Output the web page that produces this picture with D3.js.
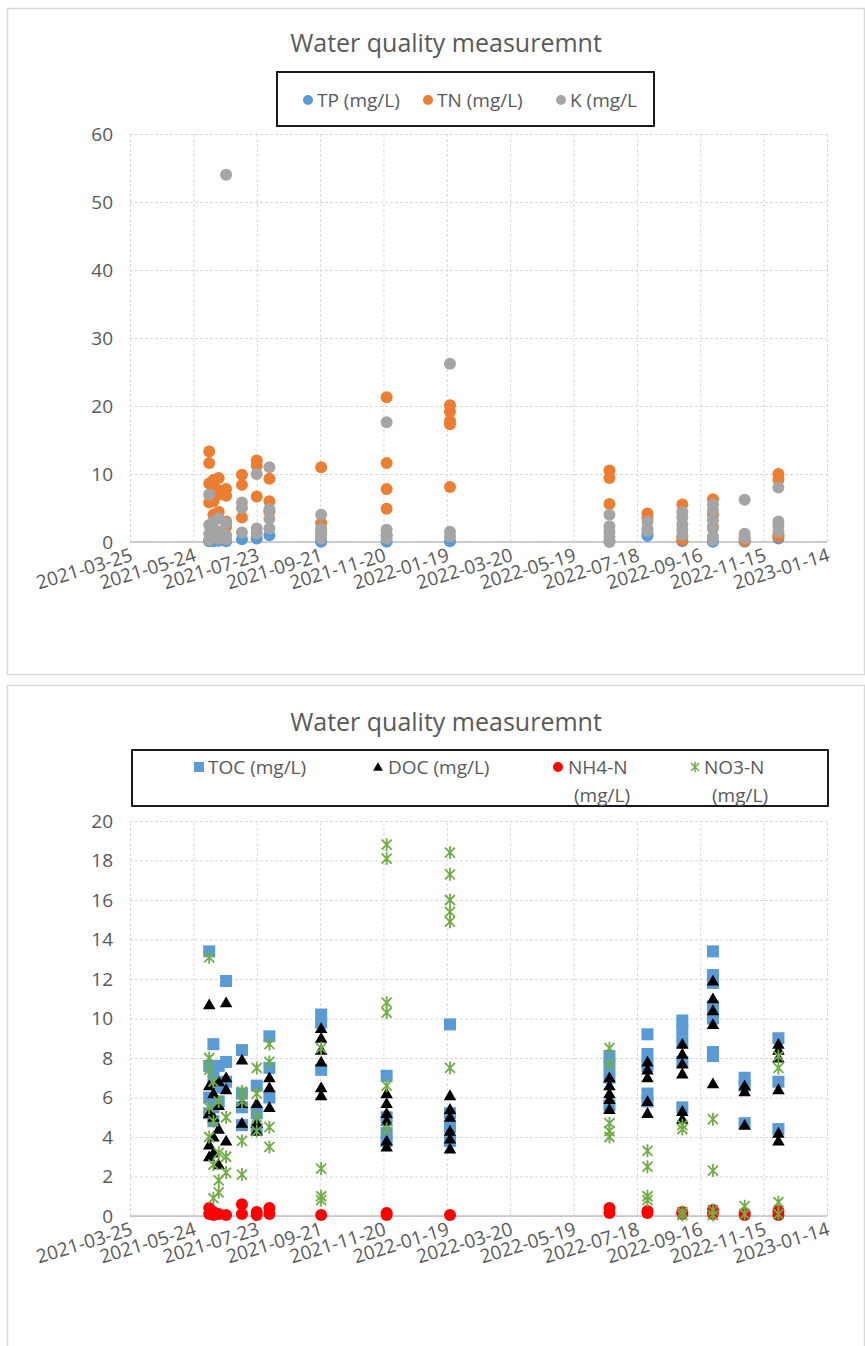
<!DOCTYPE html>
<html>
<head>
<meta charset="utf-8">
<script src="https://cdn.jsdelivr.net/npm/d3@7"></script>
<style>
body { margin: 0; background: #fff; }
text { font-family: "Open Sans", sans-serif; fill: #595959; }
</style>
</head>
<body>
<div id="container"></div>
<script>
// sampling dates shared by both charts
const sampleDates = ["2021-06-08", "2021-06-12", "2021-06-17", "2021-06-24", "2021-07-09", "2021-07-23", "2021-08-04",
  "2021-09-22", "2021-11-23", "2022-01-22", "2022-06-22", "2022-07-28", "2022-08-30", "2022-09-28", "2022-10-28", "2022-11-29"];

const xTickLabels = ["2021-03-25", "2021-05-24", "2021-07-23", "2021-09-21", "2021-11-20", "2022-01-19",
  "2022-03-20", "2022-05-19", "2022-07-18", "2022-09-16", "2022-11-15", "2023-01-14"];

const topTicks = [0, 10, 20, 30, 40, 50, 60];
const bottomTicks = [0, 2, 4, 6, 8, 10, 12, 14, 16, 18, 20];

// top chart, values per sampling date
const tp = [[0.1, 0.2], [0.1, 0.3], [0.2], [0.1, 0.2], [0.4], [0.5], [1.0], [0.05, 0.1], [0.05], [0.1],
  [0.2], [0.9, 1.2], [0.1], [0.05, 0.1], [0.05], [0.5]];
const tn = [[13.3, 11.6, 8.6, 5.8], [9.1, 8.2, 6.0, 4.0], [9.4, 7.6, 7.0, 4.4], [7.8, 6.8, 3.0, 2.2], [9.9, 8.4, 3.6],
  [12.0, 11.2, 6.7], [9.3, 6.0, 4.5], [11.0, 2.8, 1.5], [21.3, 11.6, 7.8, 4.9, 1.0], [20.1, 19.2, 17.8, 17.3, 8.1],
  [10.5, 9.4, 5.6], [4.2, 3.5], [5.5, 0.8, 0.3], [6.3, 4.0, 2.2], [0.5, 0.2], [10.0, 9.2, 1.0, 0.8]];
const kk = [[7.0, 2.5, 1.2, 0.3], [3.0, 2.0, 0.8], [3.5, 1.5, 0.5], [54.0, 2.8, 1.0, 0.4], [5.8, 5.0, 1.4],
  [10.0, 2.0, 1.3], [11.0, 4.8, 3.4, 2.0], [4.0, 2.0, 1.0, 0.5], [17.6, 1.8, 1.0, 0.5], [26.2, 1.5, 0.8],
  [4.0, 2.3, 1.5, 0.8, 0.0], [3.0, 2.0, 1.6], [4.4, 3.6, 2.6, 1.8, 1.0], [5.5, 4.6, 3.2, 2.0, 0.8, 0.3],
  [6.2, 1.2, 0.6], [8.0, 3.0, 2.4, 1.5]];

// bottom chart
const toc = [[13.4, 7.6, 6.0, 5.2], [8.7, 7.0, 5.5, 4.8], [7.6, 6.5, 5.8], [11.9, 7.8, 6.8], [8.4, 6.2, 5.5, 4.6],
  [6.6, 5.2, 4.4], [9.1, 7.5, 6.0], [10.2, 9.8, 7.4], [7.1, 5.0, 4.2, 3.8], [9.7, 5.2, 4.5, 3.8],
  [8.1, 7.6, 7.0, 5.6], [9.2, 8.2, 7.6, 6.2, 5.8], [9.9, 9.4, 8.8, 7.8, 5.5], [13.4, 12.2, 11.8, 10.6, 10.0, 8.3, 8.1],
  [7.0, 6.6, 4.7], [9.0, 6.8, 4.4]];
const doc = [[10.7, 6.6, 5.2, 3.6, 3.0], [6.2, 5.0, 4.0, 3.2], [6.8, 5.6, 4.4, 2.6], [10.8, 7.0, 6.4, 3.8],
  [7.9, 5.7, 4.7], [5.7, 4.7, 4.3], [7.0, 6.5, 5.5], [9.5, 9.0, 8.4, 7.8, 6.5, 6.1], [6.2, 5.7, 5.2, 4.8, 3.8, 3.5],
  [6.1, 5.4, 5.0, 4.3, 3.9, 3.4], [7.0, 6.6, 6.2, 5.9, 5.4], [7.8, 7.4, 7.0, 5.8, 5.2], [8.7, 8.2, 7.7, 7.2, 5.3, 4.9],
  [11.9, 11.0, 10.4, 9.7, 6.7], [6.6, 6.3, 4.6], [8.7, 8.4, 8.0, 6.4, 4.2, 3.8]];
const nh4 = [[0.4, 0.1], [0.2, 0.05], [0.1], [0.05], [0.6, 0.1], [0.2, 0.05], [0.4, 0.1], [0.05], [0.15, 0.05], [0.05],
  [0.4, 0.15], [0.25, 0.15], [0.2, 0.1], [0.3, 0.1], [0.15, 0.05], [0.25, 0.05]];
const no3 = [[13.1, 8.0, 7.4, 5.5, 4.0], [6.8, 4.8, 2.6, 0.9], [5.8, 3.2, 1.8, 1.2], [5.0, 3.0, 2.2], [6.3, 5.8, 3.8, 2.1],
  [7.5, 6.2, 5.0, 4.3], [8.7, 7.8, 4.5, 3.5], [8.5, 2.4, 1.0, 0.8], [18.8, 18.1, 10.8, 10.3, 6.6, 4.4],
  [18.4, 17.3, 16.0, 15.4, 14.9, 7.5], [8.5, 7.7, 4.7, 4.3, 4.0], [3.3, 2.5, 1.0, 0.8], [4.6, 4.4, 0.2, 0.05],
  [4.9, 2.3, 0.3, 0.05], [0.5, 0.1], [8.1, 7.5, 0.7, 0.1]];

const parse = d3.utcParse("%Y-%m-%d");
const W = 865, H = 1346;

const svg = d3.select("#container").append("svg")
  .attr("width", W).attr("height", H);

const x = d3.scaleUtc()
  .domain([parse(xTickLabels[0]), parse(xTickLabels[xTickLabels.length - 1])])
  .range([130, 827]);

function flatten(series) {
  const out = [];
  sampleDates.forEach((d, i) => series[i].forEach(v => out.push({ date: parse(d), value: v })));
  return out;
}

const starPath = "M-5,-5L5,5M-5,5L5,-5M0,-6.5L0,6.5";

function drawMarks(g, data, y, kind, color) {
  const sel = g.append("g").selectAll("path").data(flatten(data)).enter();
  if (kind == "circle") {
    sel.append("circle").attr("cx", d => x(d.date)).attr("cy", d => y(d.value)).attr("r", 6).attr("fill", color);
  } else if (kind == "square") {
    sel.append("rect").attr("x", d => x(d.date) - 6).attr("y", d => y(d.value) - 6)
      .attr("width", 12).attr("height", 12).attr("fill", color);
  } else if (kind == "triangle") {
    sel.append("path").attr("d", d3.symbol(d3.symbolTriangle, 68))
      .attr("transform", d => "translate(" + x(d.date) + "," + (y(d.value) + 1) + ")").attr("fill", color);
  } else if (kind == "dot") {
    sel.append("circle").attr("cx", d => x(d.date)).attr("cy", d => y(d.value)).attr("r", 6).attr("fill", color);
  } else {
    sel.append("path").attr("d", starPath)
      .attr("transform", d => "translate(" + x(d.date) + "," + y(d.value) + ")")
      .attr("stroke", color).attr("stroke-width", 1.8).attr("fill", "none");
  }
}

function legendMark(g, kind, cx, cy, color) {
  if (kind == "circle" || kind == "dot") g.append("circle").attr("cx", cx).attr("cy", cy).attr("r", 5).attr("fill", color);
  else if (kind == "square") g.append("rect").attr("x", cx - 5).attr("y", cy - 5).attr("width", 10).attr("height", 10).attr("fill", color);
  else if (kind == "triangle") g.append("path").attr("d", d3.symbol(d3.symbolTriangle, 42)).attr("transform", "translate(" + cx + "," + (cy + 1) + ")").attr("fill", color);
  else g.append("path").attr("d", "M-4,-4L4,4M-4,4L4,-4M0,-5L0,5").attr("transform", "translate(" + cx + "," + cy + ")").attr("stroke", color).attr("stroke-width", 1.5);
}

function drawChart(cfg) {
  const g = svg.append("g");
  g.append("rect").attr("x", 7.5).attr("y", cfg.frameTop + 0.5).attr("width", 857).attr("height", cfg.frameH)
    .attr("fill", "#fff").attr("stroke", "#d9d9d9").attr("stroke-width", 1.5);

  const y = d3.scaleLinear().domain([0, cfg.yMax]).range([cfg.bottom, cfg.top]);
  const ticks = xTickLabels.map(parse);

  // gridlines
  g.append("g").attr("transform", "translate(0," + cfg.bottom + ")")
    .call(d3.axisBottom(x).tickValues(ticks).tickSize(-(cfg.bottom - cfg.top)).tickFormat(""))
    .call(a => a.select(".domain").remove())
    .selectAll("line").attr("stroke", "#d9d9d9").attr("stroke-dasharray", "3,2");
  g.append("g").attr("transform", "translate(130,0)")
    .call(d3.axisLeft(y).tickValues(cfg.yTicks).tickSize(-697).tickFormat(""))
    .call(a => a.select(".domain").remove())
    .selectAll("line").attr("stroke", "#d9d9d9").attr("stroke-dasharray", "3,2");

  g.append("line").attr("x1", 130).attr("x2", 827).attr("y1", cfg.bottom).attr("y2", cfg.bottom)
    .attr("stroke", "#bfbfbf").attr("stroke-width", 1.5);

  // y labels
  const ya = g.append("g").attr("transform", "translate(130,0)")
    .call(d3.axisLeft(y).tickValues(cfg.yTicks).tickSize(0).tickPadding(17));
  ya.select(".domain").remove();
  ya.selectAll("text").style("font-size", "19px").style("font-family", "'Open Sans', sans-serif").attr("fill", "#595959");

  // x labels
  const xa = g.append("g").attr("transform", "translate(0," + cfg.bottom + ")")
    .call(d3.axisBottom(x).tickValues(ticks).tickSize(0).tickFormat(d3.utcFormat("%Y-%m-%d")));
  xa.select(".domain").remove();
  xa.selectAll("text").style("font-size", "19px").style("font-family", "'Open Sans', sans-serif").attr("fill", "#595959")
    .attr("text-anchor", "end").attr("y", 0).attr("dy", "0.75em")
    .attr("transform", "translate(-1,5) rotate(-17)");

  cfg.series.forEach(s => drawMarks(g, s.data, y, s.kind, s.color));

  // title
  g.append("text").attr("x", 446).attr("y", cfg.frameTop + cfg.titleDy).attr("text-anchor", "middle")
    .style("font-size", "25px").text("Water quality measuremnt");

  // legend
  const L = cfg.legend;
  g.append("rect").attr("x", L.x).attr("y", L.y).attr("width", L.w).attr("height", L.h)
    .attr("fill", "#fff").attr("stroke", "#000").attr("stroke-width", 1.8);
  cfg.series.forEach((s, i) => {
    const it = L.items[i];
    legendMark(g, s.kind, it.mx, it.my, s.color);
    s.label.forEach((line, j) => {
      g.append("text").attr("x", it.tx[j]).attr("y", it.my + j * 28).attr("dy", "0.35em")
        .style("font-size", "19px").text(line);
    });
  });
}

drawChart({
  frameTop: 8, frameH: 666, titleDy: 44, top: 134, bottom: 542, yMax: 60, yTicks: topTicks,
  series: [
    { data: tp, kind: "circle", color: "#5B9BD5", label: ["TP (mg/L)"] },
    { data: tn, kind: "circle", color: "#ED7D31", label: ["TN (mg/L)"] },
    { data: kk, kind: "circle", color: "#A5A5A5", label: ["K (mg/L"] }
  ],
  legend: {
    x: 277, y: 72, w: 377, h: 54,
    items: [{ mx: 308, my: 100, tx: [317] }, { mx: 428, my: 100, tx: [437] }, { mx: 561, my: 100, tx: [570] }]
  }
});

drawChart({
  frameTop: 685, frameH: 670, titleDy: 46, top: 821, bottom: 1216, yMax: 20, yTicks: bottomTicks,
  series: [
    { data: toc, kind: "square", color: "#5B9BD5", label: ["TOC (mg/L)"] },
    { data: doc, kind: "triangle", color: "#000000", label: ["DOC (mg/L)"] },
    { data: nh4, kind: "dot", color: "#FF0000", label: ["NH4-N", "(mg/L)"] },
    { data: no3, kind: "star", color: "#70AD47", label: ["NO3-N", "(mg/L)"] }
  ],
  legend: {
    x: 132, y: 750, w: 696, h: 56,
    items: [{ mx: 199, my: 767, tx: [208] }, { mx: 378, my: 767, tx: [388] },
      { mx: 558, my: 767, tx: [568, 574] }, { mx: 695, my: 767, tx: [704, 712] }]
  }
});
</script>
</body>
</html>
